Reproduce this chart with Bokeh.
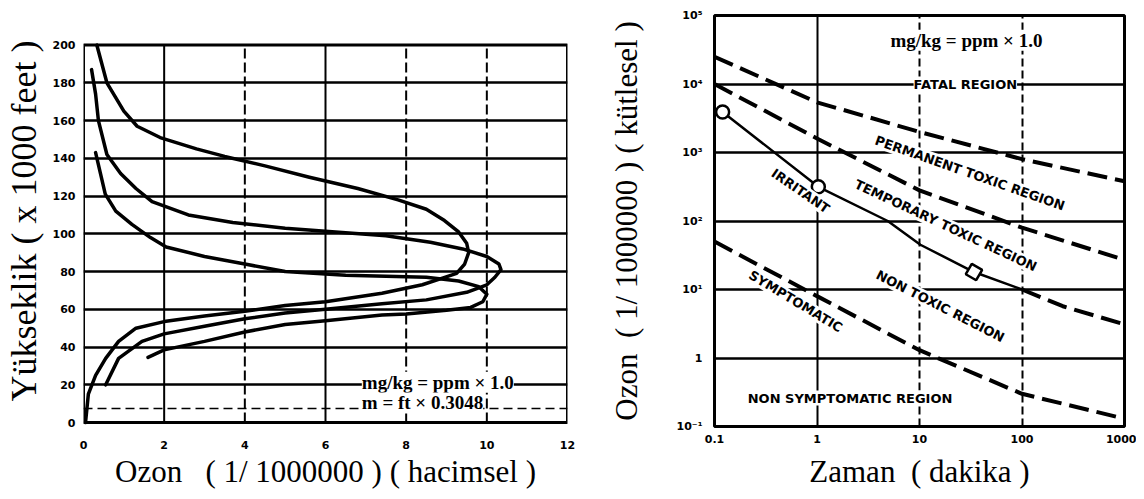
from bokeh.plotting import figure
from bokeh.models import FixedTicker, Grid, Label, Span, BoxAnnotation
from bokeh.layouts import row
from bokeh.embed import file_html
from bokeh.resources import INLINE

# ---------------- Left chart: ozone profiles ----------------
ozone_ticks = [0, 2, 4, 6, 8, 10, 12]
altitude_ticks = [0, 20, 40, 60, 80, 100, 120, 140, 160, 180, 200]

profile1_ozone = [0.33, 0.58, 1.0, 1.33, 1.9, 2.8, 3.5, 4.5, 5.6, 6.8, 7.8, 8.5, 8.95, 9.3, 9.5,
                  9.55, 9.45, 9.25, 8.9, 8.4, 7.4, 6.0, 5.0, 4.0, 3.0, 2.0, 1.3, 0.87, 0.55, 0.3, 0.12, 0.05]
profile1_alt = [200, 180, 165, 157, 151, 145, 141, 136, 130, 124, 118, 113, 107, 101, 95,
                90, 84, 79, 76.5, 73, 68.5, 64, 62, 59, 56.5, 53.5, 50, 43, 34, 25, 15, 0]

profile2_ozone = [0.2, 0.3, 0.37, 0.58, 0.92, 1.3, 1.7, 2.6, 3.7, 5.0, 6.5, 7.5, 8.6, 9.4, 10.0,
                  10.3, 10.35, 10.2, 10.0, 9.5, 8.5, 7.4, 6.0, 5.0, 4.0, 3.0, 2.0, 1.45, 0.87, 0.55]
profile2_alt = [187, 174, 160, 142, 132, 124, 117, 110, 106, 103, 100.5, 99, 95.5, 92, 88,
                84, 81, 77, 73, 69, 65, 63, 60, 58, 55, 51, 47, 43, 34, 20]

profile3_ozone = [0.3, 0.42, 0.54, 0.8, 1.2, 1.66, 2.05, 3.0, 4.0, 5.0, 6.5, 7.5, 8.5, 9.3, 9.8,
                  10.0, 9.9, 9.6, 9.0, 8.0, 7.4, 6.0, 5.0, 4.0, 3.0, 2.0, 1.6]
profile3_alt = [143, 132, 121, 112, 105, 98, 93, 88, 84, 80, 78, 77.5, 77, 75, 72,
                68, 64, 61, 59.5, 57.5, 57, 54, 52, 48, 43, 38.5, 34.5]

left_note_1 = "mg/kg = ppm × 1.0"
left_note_2 = "m = ft × 0.3048"
left_xlabel = "Ozon\u00a0\u00a0 ( 1/ 1000000 ) ( hacimsel )"
left_ylabel = "Yükseklik ( x 1000 feet )"

# ---------------- Right chart: exposure regions ----------------
time_ticks = [0.1, 1, 10, 100, 1000]
time_tick_labels = ["0.1", "1", "10", "100", "1000"]
conc_ticks = [0.1, 1, 10, 100, 1000, 10000, 100000]
conc_tick_labels = ["10⁻¹", "1", "10¹", "10²", "10³", "10⁴", "10⁵"]

fatal_time = [0.1, 1, 10, 100, 1000]
fatal_conc = [25000, 5400, 2000, 800, 380]

permanent_time = [0.1, 1, 10, 100, 1000]
permanent_conc = [10000, 1600, 280, 80, 27]

irritant_time = [0.12, 1.03, 4.9, 10.2, 34, 100]
irritant_conc = [3900, 316, 100, 45, 18, 10]
irritant_ext_time = [100, 250, 1000]
irritant_ext_conc = [10, 5.7, 3.1]

symptomatic_time = [0.1, 1, 10, 100, 1000]
symptomatic_conc = [50, 8, 1.3, 0.3, 0.13]

circle_time = [0.12, 1.03]
circle_conc = [3900, 316]
square_time = [34]
square_conc = [18]

region_names = ["FATAL REGION", "PERMANENT TOXIC REGION", "TEMPORARY TOXIC REGION", "IRRITANT",
                "NON TOXIC REGION", "SYMPTOMATIC", "NON SYMPTOMATIC REGION"]
right_note = "mg/kg = ppm × 1.0"
right_xlabel = "Zaman\u00a0 ( dakika )"
right_ylabel = "Ozon\u00a0 ( 1/ 1000000 ) ( kütlesel )"

SANS = "DejaVu Sans"
SERIF = "Liberation Serif"

# Both figures share the same outer borders (a Bokeh row aligns the plot frames);
# the left chart's smaller box is drawn inside its frame.
TOP_BORDER = 15
BOTTOM_BORDER = 59
HEIGHT = 491


def style_axes(p):
    for ax in (p.xaxis, p.yaxis):
        ax.axis_line_color = None
        ax.major_tick_line_color = None
        ax.minor_tick_line_color = None
        ax.major_label_text_font = SANS
        ax.major_label_text_font_style = "bold"
        ax.major_label_text_font_size = "11px"
        ax.major_label_text_color = "black"
        ax.axis_label_text_font = SERIF
        ax.axis_label_text_font_style = "normal"
        ax.axis_label_text_color = "black"


# ---------- left figure ----------
alt_lo, alt_hi = altitude_ticks[0], altitude_ticks[-1]
oz_lo, oz_hi = ozone_ticks[0], ozone_ticks[-1]
px_per_alt = 383 / (alt_hi - alt_lo)          # box spans 383 px of the 417 px frame
p1 = figure(width=590, height=HEIGHT, x_range=(oz_lo, oz_hi),
            y_range=(alt_lo - 4 / px_per_alt, alt_hi + 30 / px_per_alt), title=None,
            output_backend="svg", toolbar_location=None,
            min_border_left=75, min_border_right=23,
            min_border_top=TOP_BORDER, min_border_bottom=BOTTOM_BORDER,
            background_fill_color="white", border_fill_color="white")
p1.outline_line_color = None
style_axes(p1)
p1.xaxis.ticker = FixedTicker(ticks=ozone_ticks)
p1.yaxis.ticker = FixedTicker(ticks=altitude_ticks)
p1.yaxis.bounds = (alt_lo, alt_hi)
p1.xaxis.axis_label = left_xlabel
p1.xaxis.axis_label_text_font_size = "31px"
p1.xaxis.major_label_standoff = 8
p1.xaxis.axis_label_standoff = 2
p1.yaxis.axis_label = left_ylabel
p1.yaxis.axis_label_text_font_size = "36px"
p1.yaxis.major_label_standoff = 2
p1.yaxis.axis_label_standoff = 6

p1.xgrid.visible = False
solid_v = [t for t in ozone_ticks if t in (2, 6)]
dashed_v = [t for t in ozone_ticks if t in (4, 8, 10)]
p1.segment(x0=solid_v, y0=[alt_lo] * len(solid_v), x1=solid_v, y1=[alt_hi] * len(solid_v),
           line_color="black", line_width=2)
p1.segment(x0=dashed_v, y0=[alt_lo] * len(dashed_v), x1=dashed_v, y1=[alt_hi] * len(dashed_v),
           line_color="black", line_width=2, line_dash="10 4")
p1.ygrid.ticker = FixedTicker(ticks=altitude_ticks[1:-1])
p1.ygrid.grid_line_color = "black"
p1.ygrid.grid_line_width = 2.5

p1.add_layout(Span(location=7.5, dimension="width", line_color="black",
                   line_width=1.5, line_dash="9 5"))

for xs, ys in ((profile1_ozone, profile1_alt), (profile2_ozone, profile2_alt),
               (profile3_ozone, profile3_alt)):
    p1.line(xs, ys, line_color="black", line_width=3.5, line_join="round", line_cap="round")

p1.add_layout(BoxAnnotation(left=oz_lo, right=oz_hi, bottom=alt_lo, top=alt_hi,
                            fill_color=None, fill_alpha=0, line_color="black",
                            line_width=3, line_alpha=1.0))

p1.add_layout(Label(x=6.9, y=21.4, text=left_note_1, text_font=SERIF, text_font_style="bold",
                    text_font_size="19px", text_baseline="middle", text_align="left",
                    text_color="black", background_fill_color="white", background_fill_alpha=1.0))
p1.add_layout(Label(x=6.9, y=10.4, text=left_note_2, text_font=SERIF, text_font_style="bold",
                    text_font_size="19px", text_baseline="middle", text_align="left",
                    text_color="black", background_fill_color="white", background_fill_alpha=1.0))

# ---------- right figure ----------
p2 = figure(width=546, height=HEIGHT, x_axis_type="log", y_axis_type="log", title=None,
            x_range=(time_ticks[0], time_ticks[-1]), y_range=(conc_ticks[0], conc_ticks[-1]),
            output_backend="svg", toolbar_location=None,
            min_border_left=124, min_border_right=12,
            min_border_top=TOP_BORDER, min_border_bottom=BOTTOM_BORDER,
            background_fill_color="white", border_fill_color="white")
p2.outline_line_color = "black"
p2.outline_line_width = 3
style_axes(p2)
p2.xaxis.ticker = FixedTicker(ticks=time_ticks)
p2.xaxis.major_label_overrides = dict(zip(time_ticks, time_tick_labels))
p2.yaxis.ticker = FixedTicker(ticks=conc_ticks)
p2.yaxis.major_label_overrides = dict(zip(conc_ticks, conc_tick_labels))
p2.xaxis.axis_label = right_xlabel
p2.xaxis.axis_label_text_font_size = "31px"
p2.xaxis.major_label_standoff = 2
p2.xaxis.axis_label_standoff = 8
p2.yaxis.axis_label = right_ylabel
p2.yaxis.axis_label_text_font_size = "31px"
p2.yaxis.major_label_standoff = 6
p2.yaxis.axis_label_standoff = 30

p2.xgrid.ticker = FixedTicker(ticks=[1])
p2.xgrid.grid_line_color = "black"
p2.xgrid.grid_line_width = 2
p2.add_layout(Grid(dimension=0, ticker=FixedTicker(ticks=[10, 100]),
                   grid_line_color="black", grid_line_width=2, grid_line_dash="8 4"))
p2.ygrid.ticker = FixedTicker(ticks=conc_ticks[1:-1])
p2.ygrid.grid_line_color = "black"
p2.ygrid.grid_line_width = 2.5

DASH = "20 8"
p2.line(fatal_time, fatal_conc, line_color="black", line_width=4, line_dash=DASH)
p2.line(permanent_time, permanent_conc, line_color="black", line_width=4, line_dash=DASH)
p2.line(irritant_time, irritant_conc, line_color="black", line_width=2.5)
p2.line(irritant_ext_time, irritant_ext_conc, line_color="black", line_width=4, line_dash=DASH)
p2.line(symptomatic_time, symptomatic_conc, line_color="black", line_width=4, line_dash=DASH)
p2.scatter(circle_time, circle_conc, marker="circle", size=13, fill_color="white",
           line_color="black", line_width=2.5)
p2.scatter(square_time, square_conc, marker="square", size=12, angle=-30, angle_units="deg",
           fill_color="white", line_color="black", line_width=2.5)

region_places = [(28, 10000, 0), (31, 500, -19.4), (18, 86, -25), (0.69, 275, -34.6),
                 (16, 5.7, -27), (0.62, 6.7, -31), (2.1, 0.26, 0)]
for name, (lx, ly, ang) in zip(region_names, region_places):
    p2.add_layout(Label(x=lx, y=ly, text=name, angle=ang, angle_units="deg",
                        text_font=SANS, text_font_style="bold", text_font_size="13px",
                        text_align="center", text_baseline="middle", text_color="black",
                        background_fill_color="white", background_fill_alpha=1.0))

p2.add_layout(Label(x=5.2, y=43600, text=right_note, text_font=SERIF, text_font_style="bold",
                    text_font_size="19px", text_baseline="middle", text_align="left",
                    text_color="black", background_fill_color="white", background_fill_alpha=1.0))

layout = row(p1, p2)
with open("out.html", "w") as f:
    f.write(file_html(layout, INLINE))
